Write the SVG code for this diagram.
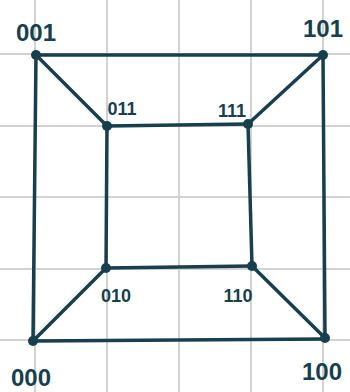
<svg xmlns="http://www.w3.org/2000/svg" width="350" height="392" viewBox="0 0 350 392">
<style>
.grid line{stroke:#d2d2d2;stroke-width:2}
.edges line{stroke:#173f4e;stroke-width:3.5;stroke-linecap:round}
.node circle{fill:#173f4e}
.node text{font-family:"Liberation Sans",Arial,sans-serif;font-weight:bold;fill:#173f4e;text-anchor:middle}
.outer{font-size:24px}
.inner{font-size:18px}
</style>
<rect width="350" height="392" fill="#ffffff"/>
<g class="grid">
<line x1="35" y1="0" x2="35" y2="392"/>
<line x1="107" y1="0" x2="107" y2="392"/>
<line x1="179" y1="0" x2="179" y2="392"/>
<line x1="251" y1="0" x2="251" y2="392"/>
<line x1="323" y1="0" x2="323" y2="392"/>
<line x1="0" y1="54" x2="350" y2="54"/>
<line x1="0" y1="126" x2="350" y2="126"/>
<line x1="0" y1="197" x2="350" y2="197"/>
<line x1="0" y1="269" x2="350" y2="269"/>
<line x1="0" y1="340" x2="350" y2="340"/>
</g>
<g id="connectors" class="edges">
<line x1="36" y1="55" x2="323" y2="55"/>
<line x1="36" y1="55" x2="33" y2="341"/>
<line x1="323" y1="55" x2="325" y2="338"/>
<line x1="33" y1="341" x2="325" y2="339"/>
<line x1="36" y1="55" x2="107" y2="126"/>
<line x1="323" y1="55" x2="248" y2="124"/>
<line x1="33" y1="341" x2="106" y2="268"/>
<line x1="325" y1="338" x2="252" y2="266"/>
<line x1="107" y1="126" x2="248" y2="124"/>
<line x1="107" y1="126" x2="106" y2="268"/>
<line x1="248" y1="124" x2="252" y2="266"/>
<line x1="106" y1="268" x2="252" y2="266"/>
</g>
<g id="n001" class="node"><circle cx="36" cy="55" r="5"/><text class="outer" x="36" y="41">001</text></g>
<g id="n101" class="node"><circle cx="323" cy="55" r="5"/><text class="outer" x="323" y="37">101</text></g>
<g id="n011" class="node"><circle cx="107" cy="126" r="5"/><text class="inner" x="122" y="115">011</text></g>
<g id="n111" class="node"><circle cx="248" cy="124" r="5"/><text class="inner" x="232" y="117">111</text></g>
<g id="n010" class="node"><circle cx="106" cy="268" r="5"/><text class="inner" x="116" y="302">010</text></g>
<g id="n110" class="node"><circle cx="252" cy="266" r="5"/><text class="inner" x="238" y="302">110</text></g>
<g id="n000" class="node"><circle cx="33" cy="341" r="5"/><text class="outer" x="31" y="386">000</text></g>
<g id="n100" class="node"><circle cx="325" cy="338" r="5"/><text class="outer" x="322" y="380">100</text></g>
</svg>
